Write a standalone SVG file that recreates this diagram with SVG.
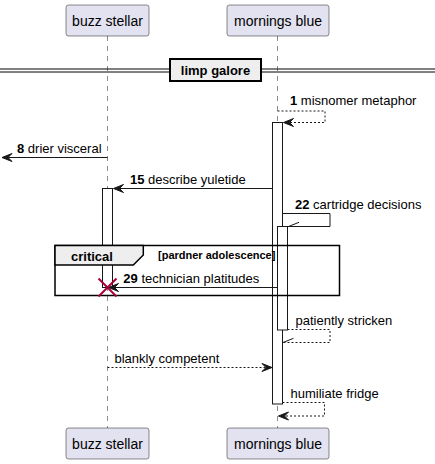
<svg xmlns="http://www.w3.org/2000/svg" width="435" height="464" viewBox="0 0 435 464">
<style>
  text { font-family: "Liberation Sans", Arial, sans-serif; fill: #000; }
  .pbox { fill: #E2E2F0; stroke: #181818; stroke-width: 0.5; }
  .pname { font-size: 14px; text-anchor: middle; }
  .life { stroke: #181818; stroke-width: 0.5; stroke-dasharray: 5,5; fill: none; }
  .act { fill: #FFFFFF; stroke: #181818; stroke-width: 1; }
  .msg { stroke: #181818; stroke-width: 1; fill: none; }
  .dash { stroke-dasharray: 2,2; }
  .head { fill: #181818; stroke: #181818; stroke-width: 1; }
  .lbl { font-size: 13px; }
  .num { font-weight: bold; }
</style>
<rect width="435" height="464" fill="#FFFFFF"/>

<g id="lifelines">
  <line class="life" x1="107.5" y1="36" x2="107.5" y2="428"/>
  <line class="life" x1="277.5" y1="36" x2="277.5" y2="428"/>
</g>

<g id="participant-buzz-stellar">
  <rect class="pbox" x="66" y="5" width="83" height="31" rx="2.5"/>
  <text class="pname" x="107.5" y="25.5">buzz stellar</text>
  <rect class="pbox" x="66" y="428" width="83" height="31" rx="2.5"/>
  <text class="pname" x="107.5" y="448.5">buzz stellar</text>
</g>
<g id="participant-mornings-blue">
  <rect class="pbox" x="227" y="5" width="102" height="31" rx="2.5"/>
  <text class="pname" x="278" y="25.5">mornings blue</text>
  <rect class="pbox" x="227" y="428" width="102" height="31" rx="2.5"/>
  <text class="pname" x="278" y="448.5">mornings blue</text>
</g>

<g id="divider-limp-galore">
  <line x1="0" y1="69" x2="435" y2="69" stroke="#000" stroke-width="1"/>
  <line x1="0" y1="72" x2="435" y2="72" stroke="#000" stroke-width="1"/>
  <rect x="170" y="59" width="91" height="22" fill="#EEEEEE" stroke="#000" stroke-width="2"/>
  <text x="215.5" y="75" font-size="13" font-weight="bold" text-anchor="middle">limp galore</text>
</g>

<g id="activations">
  <rect class="act" x="272.5" y="122.5" width="10" height="281.5"/>
  <rect class="act" x="102.5" y="188.5" width="10" height="99"/>
  <rect class="act" x="277.5" y="226.5" width="10" height="103.5"/>
</g>

<g id="group-critical">
  <rect x="55" y="245.5" width="284.5" height="50" fill="none" stroke="#000" stroke-width="1.5"/>
  <polygon points="55,245.5 143.3,245.5 143.3,255 133.3,265 55,265" fill="#EEEEEE" stroke="#000" stroke-width="1.5"/>
  <text x="71" y="260.5" font-size="13" font-weight="bold">critical</text>
  <text x="158" y="259" font-size="11" font-weight="bold">[pardner adolescence]</text>
</g>

<g id="connectors">
  <!-- 1 misnomer metaphor -->
  <path class="msg dash" d="M277.5,111 H325 V122.5 H284"/>
  <polygon class="head" points="283.5,122.5 293.5,118.5 289.5,122.5 293.5,126.5"/>
  <text class="lbl" x="290" y="105"><tspan class="num">1</tspan> misnomer metaphor</text>

  <!-- 8 drier visceral -->
  <line class="msg" x1="107.5" y1="157.5" x2="3" y2="157.5"/>
  <polygon class="head" points="2,157.5 12,153.5 8,157.5 12,161.5"/>
  <text class="lbl" x="17" y="152.5"><tspan class="num">8</tspan> drier visceral</text>

  <!-- 15 describe yuletide -->
  <line class="msg" x1="272.5" y1="188.5" x2="114" y2="188.5"/>
  <polygon class="head" points="113.5,188.5 123.5,184.5 119.5,188.5 123.5,192.5"/>
  <text class="lbl" x="130" y="184"><tspan class="num">15</tspan> describe yuletide</text>

  <!-- 22 cartridge decisions -->
  <path class="msg" d="M282.5,213.5 H330 V226.5 H288"/>
  <line class="msg" x1="288.5" y1="226.5" x2="299" y2="222.3"/>
  <text class="lbl" x="295" y="209"><tspan class="num">22</tspan> cartridge decisions</text>

  <!-- 29 technician platitudes -->
  <line class="msg" x1="277.5" y1="287.5" x2="109" y2="287.5"/>
  <polygon class="head" points="108.5,287.5 118.5,283.5 114.5,287.5 118.5,291.5"/>
  <text class="lbl" x="123.3" y="282.5"><tspan class="num">29</tspan> technician platitudes</text>

  <!-- patiently stricken -->
  <path class="msg dash" d="M287.5,329.5 H330 V342.5 H283"/>
  <line class="msg" x1="283" y1="342.5" x2="293.5" y2="338.3"/>
  <text class="lbl" x="295.5" y="325">patiently stricken</text>

  <!-- blankly competent -->
  <line class="msg dash" x1="107.5" y1="367.5" x2="271" y2="367.5"/>
  <polygon class="head" points="272,367.5 262,363.5 266,367.5 262,371.5"/>
  <text class="lbl" x="114.5" y="362.5">blankly competent</text>

  <!-- humiliate fridge -->
  <path class="msg dash" d="M282.5,402.5 H324.5 V416 H279"/>
  <polygon class="head" points="278.5,416 288.5,412 284.5,416 288.5,420"/>
  <text class="lbl" x="290.5" y="398">humiliate fridge</text>
</g>

<g id="destroy-buzz-stellar">
  <line x1="98.5" y1="278.5" x2="116.5" y2="296.5" stroke="#A80036" stroke-width="2"/>
  <line x1="98.5" y1="296.5" x2="116.5" y2="278.5" stroke="#A80036" stroke-width="2"/>
</g>
</svg>
